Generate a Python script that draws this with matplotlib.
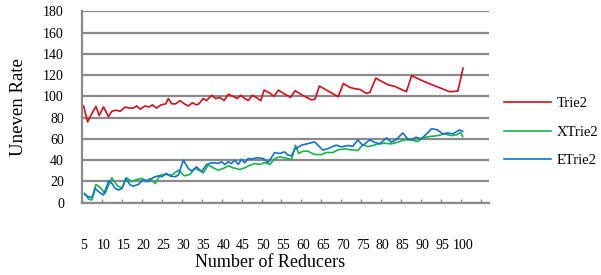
import matplotlib
matplotlib.use("Agg")
import matplotlib.pyplot as plt
import numpy as np

plt.rcParams["font.family"] = ["Liberation Serif", "DejaVu Serif"]

RED, GREEN, BLUE, GRID = "#d0101a", "#19b34e", "#1273c6", "#8a8a8a"

# values
trie2_x = [5.0, 6.0, 7.1, 8.1, 8.9, 10.0, 11.25, 12.1, 13.1, 14.2, 15.4, 16.4,
           17.5, 18.3, 19.2, 20.4, 21.4, 22.25, 23.3, 24.4, 25.6, 26.25, 27.1,
           28.1, 29.2, 30.25, 31.25, 32.25, 33.3, 33.9, 35.0, 35.8, 37.1, 38.1,
           39.2, 40.2, 41.25, 42.5, 43.5, 44.4, 45.4, 46.25, 47.25, 48.3, 49.4,
           50.25, 51.7, 52.75, 53.8, 55.1, 56.9, 58.0, 60.1, 62.2, 63.0, 64.1,
           65.9, 68.8, 70.1, 71.75, 73.0, 74.25, 75.9, 76.75, 78.25, 79.7,
           81.3, 83.0, 85.9, 87.2, 90.9, 96.75, 98.8, 100.1]
trie2_y = [91, 76, 84, 90.6, 82, 90, 81, 86, 87, 86, 90, 89,
           89, 91, 88, 91, 90, 92, 89, 92, 93, 98, 93,
           93, 96, 93, 91, 94, 92, 93, 98, 96, 101, 98,
           99, 96, 102, 100, 98, 101, 98, 96, 101, 99, 96,
           106, 103, 100, 105.9, 102.8, 99.1, 105.3, 100.6, 96.6, 97.5, 109.7,
           105.9, 99.7, 112.2, 108.4, 107.2, 106.6, 102.8, 103.8, 117.2, 114.1,
           110.9, 109.4, 104.4, 119.4, 113.1, 104.4, 105.0, 126.6]

xtrie2_x = [5.25, 6.25, 7.1, 8.1, 9.2, 10.4, 12.1, 13.3, 14.6, 15.8, 17.1, 18.3,
            19.6, 20.4, 21.7, 22.9, 24.2, 25.4, 27.1, 28.75, 30.25, 31.7, 32.9,
            34.2, 35.0, 36.25, 37.5, 38.75, 40.0, 41.25, 42.5, 44.2, 45.4, 46.7,
            47.9, 49.2, 50.4, 51.7, 52.9, 54.2, 55.4, 57.1, 58.1, 58.9, 60.0,
            61.25, 62.9, 64.6, 65.8, 67.5, 68.75, 70.4, 72.1, 73.75, 75.0, 76.25,
            77.5, 78.75, 80.4, 82.1, 83.75, 85.4, 87.1, 88.75, 90.0, 91.7, 93.75,
            95.4, 97.1, 98.4, 99.5, 100.0]
xtrie2_y = [8.8, 3.4, 2.5, 17.2, 14.1, 8.8, 23.4, 16.6, 13.4, 23.4, 19.7, 21.9,
            22.8, 19.7, 22.8, 18.1, 25.9, 26.6, 25.9, 30.6, 25.3, 26.6, 32.2,
            30.0, 28.1, 35.5, 32.8, 30.6, 32.2, 34.7, 32.8, 31.25, 32.8, 35.3,
            36.9, 35.9, 37.8, 35.9, 41.6, 43.1, 42.2, 40.6, 54.1, 46.25, 48.4,
            48.4, 45.3, 45.3, 47.2, 47.2, 49.7, 50.6, 49.7, 49.1, 54.7, 52.8,
            53.75, 55.3, 55.9, 55.3, 56.9, 59.1, 59.1, 57.5, 61.0, 62.2, 63.1,
            64.7, 63.1, 63.75, 66.25, 62.2]

etrie2_x = [5.25, 6.25, 7.1, 7.9, 8.75, 10.0, 11.25, 12.1, 12.9, 13.75, 14.6,
            15.6, 16.7, 17.5, 18.75, 20.0, 21.25, 22.5, 23.75, 24.6, 25.8, 26.7,
            27.9, 28.75, 30.0, 31.25, 32.1, 33.3, 34.6, 35.8, 37.1, 37.9, 38.75,
            39.6, 40.4, 41.25, 42.1, 42.9, 43.75, 44.6, 45.4, 46.25, 47.1, 48.3,
            50.0, 51.25, 52.9, 54.2, 55.4, 56.25, 57.1, 57.9, 59.6, 61.25, 62.9,
            65.0, 66.25, 68.3, 69.6, 71.25, 72.5, 73.75, 75.0, 76.7, 77.9, 79.2,
            80.9, 82.1, 83.3, 85.0, 86.25, 87.25, 88.3, 89.6, 90.8, 92.25, 93.75,
            95.0, 96.25, 97.5, 99.2, 100.0]
etrie2_y = [7.8, 5.6, 4.7, 13.4, 10.3, 7.2, 20.3, 18.1, 13.4, 11.9, 13.4,
            22.8, 16.6, 15.6, 17.2, 21.9, 19.7, 23.8, 25.3, 24.4, 27.5, 25.0,
            24.4, 25.9, 40.0, 32.2, 29.7, 33.75, 29.1, 35.9, 37.5, 37.5, 36.9,
            38.4, 35.9, 38.4, 36.9, 40.0, 35.9, 40.9, 37.5, 41.6, 40.9, 42.2,
            41.6, 37.8, 47.2, 46.25, 47.8, 44.7, 44.1, 50.0, 54.1, 55.6, 57.2,
            49.4, 50.9, 54.1, 52.5, 53.75, 53.1, 59.1, 53.75, 59.1, 56.9, 55.3,
            60.9, 56.9, 59.1, 65.6, 60.0, 59.1, 61.6, 60.0, 64.1, 69.7, 68.4,
            64.7, 65.6, 64.7, 68.4, 67.2]

x_ticks = list(range(5, 101, 5))
y_ticks = list(range(0, 181, 20))

fig = plt.figure(figsize=(6.01, 2.75), dpi=100)
ax = fig.add_axes([0.1364, 0.263, 0.6772, 0.698])

l1, = ax.plot(trie2_x, trie2_y, color=RED, lw=1.2, label="Trie2")
l2, = ax.plot(xtrie2_x, xtrie2_y, color=GREEN, lw=1.2, label="XTrie2")
l3, = ax.plot(etrie2_x, etrie2_y, color=BLUE, lw=1.2, label="ETrie2")

ax.set_xlim(4.75, 106.6)
ax.set_ylim(0, 180.6)
ax.set_yticks(y_ticks)
ax.set_xticks(x_ticks)
ax.set_xticks(np.arange(4.6, 107, 5), minor=True)
ax.yaxis.grid(True, color=GRID, lw=1.6)
ax.set_axisbelow(True)
for s in ("top", "right"):
    ax.spines[s].set_visible(False)
for s in ("left", "bottom"):
    ax.spines[s].set_color(GRID)
    ax.spines[s].set_linewidth(1.6)

ax.tick_params(axis="y", length=0, pad=13, labelsize=10)
ax.tick_params(axis="x", which="major", length=0, pad=26, labelsize=10)
ax.tick_params(axis="x", which="minor", direction="in", length=3,
               color=GRID, width=1)

ax.set_ylabel("Uneven Rate", fontsize=13.5)
ax.yaxis.set_label_coords(-0.135, 0.5)
ax.set_xlabel("Number of Reducers", fontsize=13)
ax.xaxis.set_label_coords(0.462, -0.265)

fig.legend(handles=[l1, l2, l3], loc="center left",
           bbox_to_anchor=(504 / 601, 1 - 132.3 / 275), frameon=False,
           fontsize=10.5, handlelength=3.2, handletextpad=0.4,
           labelspacing=1.05, borderpad=0, borderaxespad=0)

fig.savefig("out.png", dpi=100)
